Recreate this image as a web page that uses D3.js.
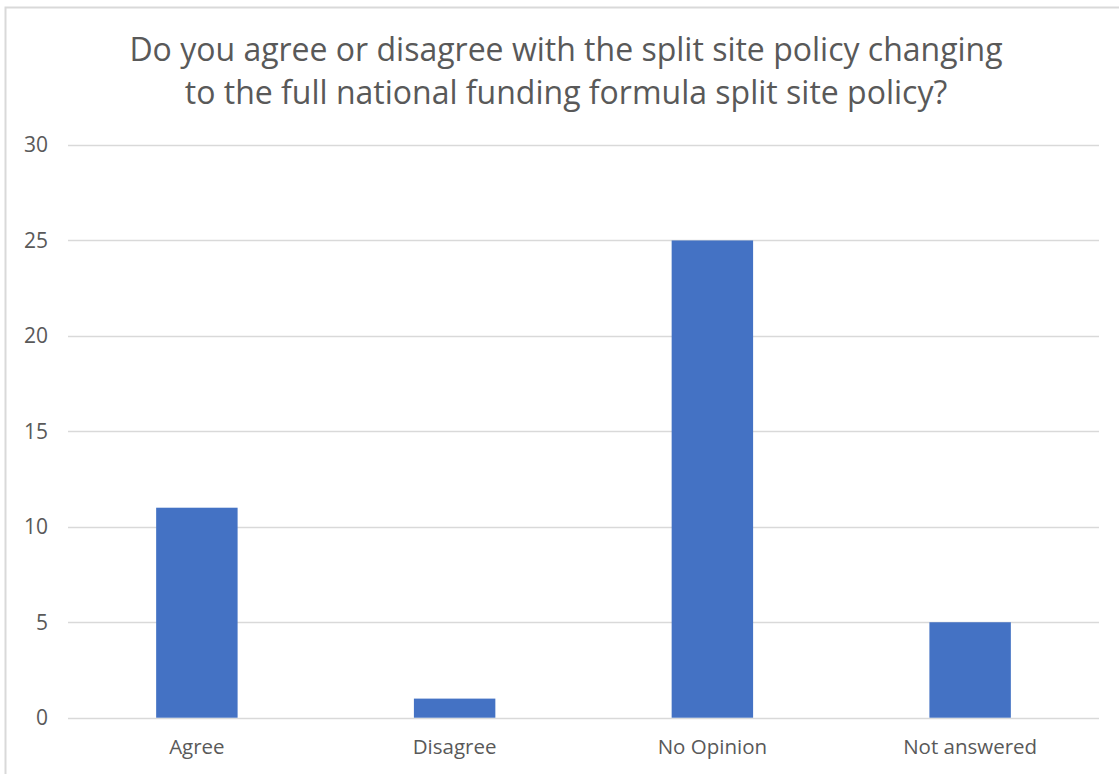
<!DOCTYPE html>
<html>
<head>
<meta charset="utf-8">
<script src="https://cdn.jsdelivr.net/npm/d3@7"></script>
<style>
  html, body { margin: 0; padding: 0; background: #ffffff; }
  svg { display: block; }
</style>
</head>
<body>
<svg id="chart" width="1119" height="774"></svg>
<script>
const titleLines = [
  "Do you agree or disagree with the split site policy changing",
  "to the full national funding formula split site policy?"
];
const categories = ["Agree", "Disagree", "No Opinion", "Not answered"];
const values = [11, 1, 25, 5];
const yTicks = [0, 5, 10, 15, 20, 25, 30];

const W = 1119, H = 774;
const margin = { left: 68, right: 20, top: 145, bottom: 56 };
const font = "'Open Sans', Lato, sans-serif";
const textColor = "#595959";

const svg = d3.select("#chart");

// chart area outline
svg.append("rect")
  .attr("x", 5.5).attr("y", 7.5)
  .attr("width", 1125).attr("height", 800)
  .attr("fill", "#fff")
  .attr("stroke", "#d9d9d9").attr("stroke-width", 2);

const x = d3.scaleBand()
  .domain(categories)
  .range([margin.left, W - margin.right])
  .paddingInner(0.684)
  .paddingOuter(0.342);

const y = d3.scaleLinear()
  .domain([0, 30])
  .range([H - margin.bottom - 0.3, margin.top]);

// gridlines
svg.append("g")
  .selectAll("line")
  .data(yTicks)
  .join("line")
  .attr("x1", margin.left).attr("x2", W - margin.right)
  .attr("y1", d => Math.round(y(d)) + 0.5).attr("y2", d => Math.round(y(d)) + 0.5)
  .attr("stroke", "#d9d9d9").attr("stroke-width", 1.5);

// y tick labels
svg.append("g")
  .selectAll("text")
  .data(yTicks)
  .join("text")
  .attr("x", 48).attr("y", d => y(d))
  .attr("dy", "0.35em")
  .attr("text-anchor", "end")
  .attr("font-family", font).attr("font-size", 21)
  .attr("fill", textColor)
  .text(d => d);

// bars
svg.append("g")
  .selectAll("rect")
  .data(values)
  .join("rect")
  .attr("x", (d, i) => x(categories[i]))
  .attr("width", x.bandwidth())
  .attr("y", d => y(d))
  .attr("height", d => y(0) - y(d))
  .attr("fill", "#4472c4");

// category labels
svg.append("g")
  .selectAll("text")
  .data(categories)
  .join("text")
  .attr("x", d => x(d) + x.bandwidth() / 2)
  .attr("y", 754)
  .attr("text-anchor", "middle")
  .attr("font-family", font).attr("font-size", 20.5)
  .attr("fill", textColor)
  .text(d => d);

// title
svg.append("g")
  .selectAll("text")
  .data(titleLines)
  .join("text")
  .attr("x", 566)
  .attr("y", (d, i) => 61 + i * 43)
  .attr("text-anchor", "middle")
  .attr("font-family", font).attr("font-size", 32)
  .attr("fill", textColor)
  .text(d => d);
</script>
</body>
</html>
